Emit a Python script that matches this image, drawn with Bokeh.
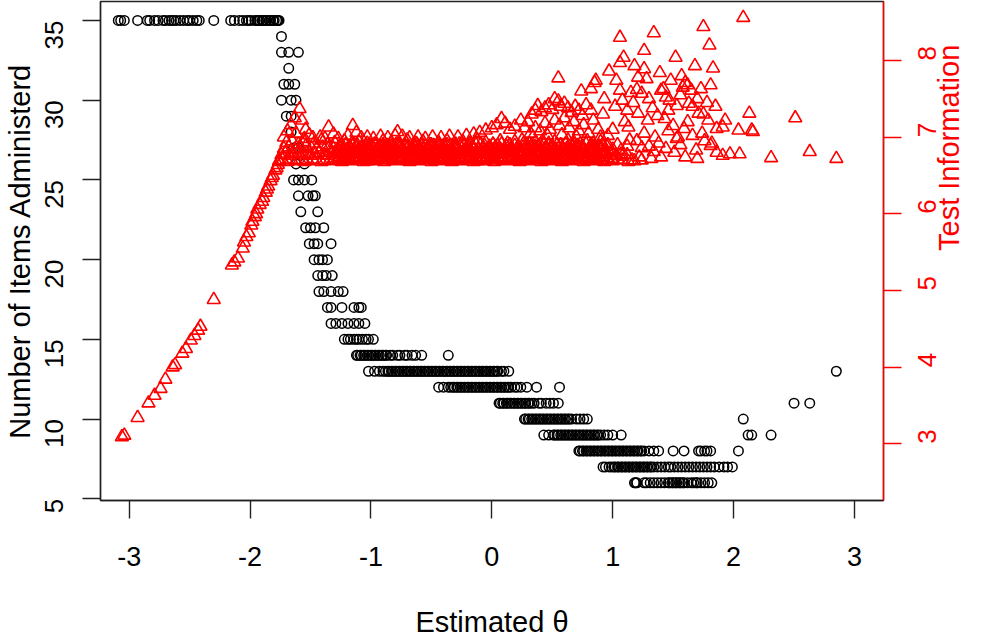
import math
from bokeh.plotting import figure
from bokeh.models import Range1d, LinearAxis, FixedTicker, ColumnDataSource
from bokeh.embed import file_html
from bokeh.resources import INLINE

# ---------------- Number of items administered vs estimated theta ----------------
n35 = [-3.09, -3.07, -3.04, -2.93, -2.85, -2.83, -2.79, -2.76, -2.72, -2.70, -2.67,
       -2.65, -2.63, -2.61, -2.58, -2.55, -2.52, -2.50, -2.47, -2.44, -2.42, -2.30,
       -2.16, -2.13, -2.09, -2.06, -2.03, -2.01, -1.99, -1.96, -1.94, -1.93, -1.92,
       -1.90, -1.89, -1.87, -1.86, -1.84, -1.83, -1.81, -1.80, -1.78, -1.77, -1.76]
n34 = [-1.74]
n33 = [-1.74, -1.68, -1.60]
n32 = [-1.68]
n31 = [-1.72, -1.68, -1.63]
n30 = [-1.74, -1.66, -1.62]
n29 = [-1.70, -1.66]
n28 = [-1.66]
n27 = [-1.64, -1.60]
n26 = [-1.62, -1.55]
n25 = [-1.64, -1.60, -1.55, -1.49]
n24 = [-1.60, -1.52, -1.48, -1.46]
n23 = [-1.58, -1.44]
n22 = [-1.54, -1.50, -1.46, -1.39]
n21 = [-1.51, -1.47, -1.44, -1.33]
n20 = [-1.47, -1.43, -1.40, -1.36]
n19 = [-1.44, -1.40, -1.37, -1.32]
n18 = [-1.43, -1.39, -1.33, -1.27, -1.23]
n17 = [-1.36, -1.33, -1.24, -1.14, -1.10, -1.08]
n16 = [-1.33, -1.29, -1.24, -1.19, -1.14, -1.10, -1.05]
n15 = [-1.22, -1.19, -1.17, -1.14, -1.12, -1.10, -1.07, -1.04, -1.02, -0.98]
n14 = [-1.12, -1.11, -1.09, -1.08, -1.06, -1.05, -1.03, -1.02, -1.00, -0.99, -0.97,
       -0.96, -0.94, -0.93, -0.91, -0.90, -0.88, -0.87, -0.84, -0.82, -0.78, -0.76,
       -0.72, -0.70, -0.66, -0.63, -0.58, -0.36]
n13 = [-1.02, -0.97, -0.93, -0.90, -0.88, -0.86, -0.85, -0.83, -0.82, -0.80, -0.79,
       -0.77, -0.76, -0.74, -0.73, -0.71, -0.70, -0.68, -0.67, -0.65, -0.64, -0.62,
       -0.61, -0.59, -0.58, -0.56, -0.55, -0.53, -0.52, -0.50, -0.49, -0.47, -0.46,
       -0.44, -0.43, -0.41, -0.40, -0.38, -0.37, -0.35, -0.34, -0.32, -0.31, -0.29,
       -0.28, -0.26, -0.25, -0.23, -0.22, -0.20, -0.19, -0.17, -0.16, -0.14, -0.13,
       -0.11, -0.10, -0.08, -0.07, -0.05, -0.04, -0.02, -0.01, 0.01, 0.02, 0.04,
       0.05, 0.08, 0.10, 0.14, 2.85]
n12 = [-0.44, -0.40, -0.36, -0.34, -0.32, -0.31, -0.29, -0.28, -0.26, -0.25, -0.23,
       -0.22, -0.20, -0.19, -0.17, -0.16, -0.14, -0.13, -0.11, -0.10, -0.08, -0.07,
       -0.05, -0.04, -0.02, -0.01, 0.01, 0.02, 0.04, 0.05, 0.07, 0.08, 0.10, 0.11,
       0.13, 0.14, 0.16, 0.19, 0.21, 0.24, 0.29, 0.37, 0.56]
n11 = [0.06, 0.07, 0.09, 0.10, 0.12, 0.13, 0.15, 0.16, 0.18, 0.19, 0.21, 0.22, 0.24,
       0.25, 0.27, 0.28, 0.30, 0.31, 0.33, 0.35, 0.39, 0.41, 0.45, 0.48, 0.51, 0.55,
       2.50, 2.63]
n10 = [0.27, 0.28, 0.30, 0.31, 0.33, 0.34, 0.36, 0.37, 0.39, 0.40, 0.42, 0.43, 0.45,
       0.46, 0.48, 0.49, 0.51, 0.52, 0.54, 0.55, 0.57, 0.58, 0.60, 0.61, 0.63, 0.64,
       0.66, 0.70, 0.73, 0.76, 0.79, 2.08]
n9 = [0.43, 0.47, 0.51, 0.52, 0.54, 0.55, 0.57, 0.58, 0.60, 0.61, 0.63, 0.64, 0.66,
      0.67, 0.69, 0.70, 0.72, 0.73, 0.75, 0.76, 0.78, 0.79, 0.81, 0.82, 0.84, 0.85,
      0.87, 0.88, 0.90, 0.93, 0.96, 1.00, 1.07, 2.12, 2.15, 2.31]
n8 = [0.72, 0.73, 0.75, 0.76, 0.78, 0.79, 0.81, 0.82, 0.84, 0.85, 0.87, 0.88, 0.90,
      0.91, 0.93, 0.94, 0.96, 0.97, 0.99, 1.00, 1.02, 1.03, 1.05, 1.06, 1.08, 1.09,
      1.11, 1.12, 1.14, 1.15, 1.17, 1.18, 1.20, 1.21, 1.23, 1.24, 1.26, 1.30, 1.34,
      1.38, 1.50, 1.59, 1.71, 1.73, 1.76, 1.78, 1.81, 2.04]
n7 = [0.92, 0.94, 0.97, 0.99, 1.01, 1.02, 1.04, 1.05, 1.07, 1.08, 1.10, 1.11, 1.13,
      1.14, 1.16, 1.17, 1.19, 1.20, 1.22, 1.23, 1.25, 1.26, 1.28, 1.29, 1.31, 1.32,
      1.34, 1.37, 1.40, 1.43, 1.46, 1.48, 1.51, 1.54, 1.57, 1.60, 1.63, 1.66, 1.69,
      1.72, 1.75, 1.78, 1.81, 1.84, 1.88, 1.92, 1.95, 1.99]
n6 = [1.18, 1.19, 1.20, 1.26, 1.28, 1.31, 1.34, 1.37, 1.40, 1.43, 1.46, 1.47, 1.49,
      1.50, 1.52, 1.53, 1.55, 1.56, 1.58, 1.59, 1.62, 1.65, 1.67, 1.69, 1.70, 1.73,
      1.76, 1.79, 1.82]

item_levels = [35, 34, 33, 32, 31, 30, 29, 28, 27, 26, 25, 24, 23, 22, 21, 20, 19,
               18, 17, 16, 15, 14, 13, 12, 11, 10, 9, 8, 7, 6]
item_groups = [n35, n34, n33, n32, n31, n30, n29, n28, n27, n26, n25, n24, n23, n22,
               n21, n20, n19, n18, n17, n16, n15, n14, n13, n12, n11, n10, n9, n8,
               n7, n6]

# ---------------- Test information vs estimated theta ----------------
rise_theta = [-3.06, -3.04, -2.93, -2.84, -2.79, -2.74, -2.70, -2.64, -2.62, -2.56,
              -2.53, -2.49, -2.46, -2.43, -2.41, -2.30, -2.15, -2.13, -2.10, -2.06,
              -2.05, -2.03, -2.01, -1.99, -1.98, -1.96, -1.95, -1.94, -1.92, -1.90,
              -1.89, -1.87, -1.86, -1.85, -1.83, -1.82, -1.81, -1.79, -1.78, -1.77,
              -1.76]
rise_info = [3.09, 3.11, 3.34, 3.53, 3.63, 3.72, 3.84, 4.00, 4.03, 4.18,
             4.24, 4.35, 4.41, 4.48, 4.53, 4.88, 5.33, 5.37, 5.42, 5.55,
             5.63, 5.70, 5.75, 5.85, 5.90, 5.96, 6.00, 6.06, 6.12, 6.16,
             6.21, 6.28, 6.32, 6.36, 6.43, 6.47, 6.50, 6.57, 6.60, 6.64,
             6.68]

band1_theta = [-1.76, -1.73, -1.69, -1.66, -1.62, -1.59, -1.55, -1.52, -1.48, -1.45,
               -1.41, -1.38, -1.34, -1.31, -1.27, -1.24, -1.20, -1.17, -1.13, -1.10,
               -1.06, -1.03, -0.99, -0.96, -0.92, -0.89, -0.85, -0.82, -0.78, -0.75,
               -0.71, -0.68, -0.64, -0.61, -0.57, -0.54, -0.50, -0.47, -0.43, -0.40,
               -0.36, -0.33, -0.29, -0.26, -0.22, -0.19, -0.15, -0.12, -0.08, -0.05,
               -0.01, 0.02, 0.06, 0.09, 0.13, 0.16, 0.20, 0.23, 0.27, 0.30,
               0.34, 0.37, 0.41, 0.44, 0.48, 0.51, 0.55, 0.58, 0.62, 0.65,
               0.69, 0.72, 0.76, 0.79, 0.83, 0.86, 0.90, 0.93, 0.97, 1.00,
               1.04, 1.08, 1.13, 1.18, 1.24]
band1_info = [6.69, 6.70, 6.68, 6.71, 6.69, 6.70, 6.68, 6.69, 6.71, 6.70,
              6.68, 6.69, 6.70, 6.71, 6.69, 6.68, 6.70, 6.69, 6.71, 6.70,
              6.68, 6.69, 6.70, 6.69, 6.71, 6.68, 6.70, 6.69, 6.70, 6.71,
              6.69, 6.68, 6.70, 6.69, 6.71, 6.70, 6.68, 6.69, 6.70, 6.71,
              6.69, 6.68, 6.70, 6.69, 6.71, 6.70, 6.68, 6.69, 6.70, 6.69,
              6.71, 6.68, 6.70, 6.69, 6.70, 6.71, 6.69, 6.68, 6.70, 6.69,
              6.71, 6.70, 6.68, 6.69, 6.70, 6.71, 6.69, 6.68, 6.70, 6.69,
              6.71, 6.70, 6.68, 6.69, 6.70, 6.71, 6.69, 6.68, 6.70, 6.69,
              6.71, 6.70, 6.68, 6.69, 6.70]

band2_theta = [-1.74, -1.71, -1.67, -1.64, -1.60, -1.57, -1.53, -1.50, -1.46, -1.43,
               -1.39, -1.36, -1.32, -1.29, -1.25, -1.22, -1.18, -1.15, -1.11, -1.08,
               -1.04, -1.01, -0.97, -0.94, -0.90, -0.87, -0.83, -0.80, -0.76, -0.73,
               -0.69, -0.66, -0.62, -0.59, -0.55, -0.52, -0.48, -0.45, -0.41, -0.38,
               -0.34, -0.31, -0.27, -0.24, -0.20, -0.17, -0.13, -0.10, -0.06, -0.03,
               0.01, 0.04, 0.08, 0.11, 0.15, 0.18, 0.22, 0.25, 0.29, 0.32,
               0.36, 0.39, 0.43, 0.46, 0.50, 0.53, 0.57, 0.60, 0.64, 0.67,
               0.71, 0.74, 0.78, 0.81, 0.85, 0.88, 0.92, 0.95, 0.99, 1.03,
               1.07, 1.12]
band2_info = [6.77, 6.79, 6.76, 6.78, 6.80, 6.77, 6.79, 6.76, 6.78, 6.80,
              6.77, 6.76, 6.79, 6.78, 6.77, 6.80, 6.76, 6.78, 6.79, 6.77,
              6.80, 6.76, 6.78, 6.77, 6.79, 6.80, 6.76, 6.78, 6.77, 6.79,
              6.76, 6.80, 6.78, 6.77, 6.79, 6.76, 6.78, 6.80, 6.77, 6.79,
              6.76, 6.78, 6.77, 6.80, 6.79, 6.76, 6.78, 6.77, 6.79, 6.80,
              6.76, 6.78, 6.77, 6.79, 6.80, 6.76, 6.78, 6.77, 6.79, 6.76,
              6.80, 6.78, 6.77, 6.79, 6.76, 6.78, 6.80, 6.77, 6.79, 6.76,
              6.78, 6.77, 6.80, 6.79, 6.76, 6.78, 6.77, 6.79, 6.80, 6.76,
              6.78, 6.77]

band3_theta = [-1.72, -1.68, -1.63, -1.58, -1.54, -1.49, -1.45, -1.40, -1.35, -1.31,
               -1.26, -1.22, -1.17, -1.12, -1.08, -1.03, -0.99, -0.94, -0.89, -0.85,
               -0.80, -0.76, -0.71, -0.66, -0.62, -0.57, -0.53, -0.48, -0.43, -0.39,
               -0.34, -0.30, -0.25, -0.20, -0.16, -0.11, -0.07, -0.02, 0.03, 0.07,
               0.12, 0.16, 0.21, 0.26, 0.30, 0.35, 0.39, 0.44, 0.49, 0.53,
               0.58, 0.62, 0.67, 0.72, 0.76, 0.81, 0.85, 0.90, 0.95, 1.00]
band3_info = [6.85, 6.87, 6.84, 6.86, 6.88, 6.85, 6.84, 6.87, 6.86, 6.85,
              6.88, 6.84, 6.86, 6.87, 6.85, 6.84, 6.88, 6.86, 6.85, 6.87,
              6.84, 6.86, 6.88, 6.85, 6.87, 6.84, 6.86, 6.85, 6.88, 6.87,
              6.84, 6.86, 6.85, 6.87, 6.88, 6.84, 6.86, 6.85, 6.87, 6.84,
              6.88, 6.86, 6.85, 6.87, 6.84, 6.86, 6.88, 6.85, 6.87, 6.84,
              6.86, 6.85, 6.88, 6.87, 6.84, 6.86, 6.85, 6.87, 6.88, 6.84]

band4_theta = [-1.70, -1.65, -1.60, -1.55, -1.47, -1.41, -1.36, -1.30, -1.22, -1.16,
               -1.10, -1.03, -0.96, -0.90, -0.83, -0.77, -0.70, -0.63, -0.57, -0.50,
               -0.44, -0.37, -0.30, -0.24, -0.18, -0.12, -0.05, 0.01, 0.07, 0.13,
               0.19, 0.25, 0.31, 0.36, 0.42, 0.47, 0.52, 0.57, 0.63, 0.68,
               0.73, 0.79, 0.84, 0.90, 0.96]
band4_info = [6.93, 6.95, 6.91, 6.94, 6.92, 6.96, 6.90, 6.93, 6.95, 6.91,
              6.94, 6.92, 6.90, 6.95, 6.93, 6.91, 6.96, 6.92, 6.94, 6.90,
              6.93, 6.95, 6.91, 6.94, 6.92, 6.96, 6.93, 6.91, 6.95, 6.92,
              6.94, 6.96, 6.91, 6.93, 6.95, 6.92, 6.94, 6.90, 6.96, 6.93,
              6.91, 6.95, 6.92, 6.94, 6.90]

band5_theta = [-1.30, -1.27, -1.24, -1.21, -1.18, -1.15, -1.12, -1.09, -1.06, -1.03,
               -1.00, -0.97, -0.94, -0.91, -0.88, -0.85, -0.82, -0.79, -0.76, -0.73,
               -0.70, -0.67, -0.64, -0.61, -0.58, -0.55, -0.52, -0.49, -0.46, -0.43,
               -0.40, -0.37, -0.34, -0.31, -0.28, -0.25, -0.22, -0.19, -0.16, -0.13,
               -0.10, -0.07, -0.04, -0.01, 0.02, 0.05, 0.08, 0.11, 0.14, 0.17,
               0.20, 0.23, 0.26, 0.29, 0.32, 0.35, 0.38, 0.41, 0.44, 0.47,
               0.50, 0.53, 0.56, 0.59, 0.62, 0.65, 0.68, 0.71, 0.74, 0.77,
               0.80, 0.83, 0.86, 0.89, 0.92, 0.95]
band5_info = [6.73, 6.74, 6.72, 6.75, 6.73, 6.72, 6.74, 6.73, 6.75, 6.72,
              6.74, 6.73, 6.72, 6.75, 6.74, 6.73, 6.72, 6.74, 6.75, 6.73,
              6.72, 6.74, 6.73, 6.75, 6.72, 6.74, 6.73, 6.72, 6.75, 6.74,
              6.73, 6.72, 6.74, 6.75, 6.73, 6.72, 6.74, 6.73, 6.75, 6.72,
              6.74, 6.73, 6.72, 6.75, 6.74, 6.73, 6.72, 6.74, 6.75, 6.73,
              6.72, 6.74, 6.73, 6.75, 6.72, 6.74, 6.73, 6.72, 6.75, 6.74,
              6.73, 6.72, 6.74, 6.75, 6.73, 6.72, 6.74, 6.73, 6.75, 6.72,
              6.74, 6.73, 6.72, 6.75, 6.74, 6.73]

band6_theta = [-1.29, -1.26, -1.23, -1.20, -1.17, -1.14, -1.11, -1.08, -1.05, -1.02,
               -0.99, -0.96, -0.93, -0.90, -0.87, -0.84, -0.81, -0.78, -0.75, -0.72,
               -0.69, -0.66, -0.63, -0.60, -0.57, -0.54, -0.51, -0.48, -0.45, -0.42,
               -0.39, -0.36, -0.33, -0.30, -0.27, -0.24, -0.21, -0.18, -0.15, -0.12,
               -0.09, -0.06, -0.03, 0.00, 0.03, 0.06, 0.09, 0.12, 0.15, 0.18,
               0.21, 0.24, 0.27, 0.30, 0.33, 0.36, 0.39, 0.42, 0.45, 0.48,
               0.51, 0.54, 0.57, 0.60, 0.63, 0.66, 0.69, 0.72, 0.75, 0.78,
               0.81, 0.84, 0.87, 0.90, 0.93]
band6_info = [6.81, 6.82, 6.80, 6.83, 6.81, 6.80, 6.82, 6.81, 6.83, 6.80,
              6.82, 6.81, 6.80, 6.83, 6.82, 6.81, 6.80, 6.82, 6.83, 6.81,
              6.80, 6.82, 6.81, 6.83, 6.80, 6.82, 6.81, 6.80, 6.83, 6.82,
              6.81, 6.80, 6.82, 6.83, 6.81, 6.80, 6.82, 6.81, 6.83, 6.80,
              6.82, 6.81, 6.80, 6.83, 6.82, 6.81, 6.80, 6.82, 6.83, 6.81,
              6.80, 6.82, 6.81, 6.83, 6.80, 6.82, 6.81, 6.80, 6.83, 6.82,
              6.81, 6.80, 6.82, 6.83, 6.81, 6.80, 6.82, 6.81, 6.83, 6.80,
              6.82, 6.81, 6.80, 6.83, 6.82]

band7_theta = [-1.25, -1.21, -1.18, -1.14, -1.11, -1.07, -1.04, -1.00, -0.97, -0.93,
               -0.90, -0.86, -0.83, -0.79, -0.76, -0.72, -0.69, -0.65, -0.62, -0.58,
               -0.55, -0.51, -0.48, -0.44, -0.41, -0.37, -0.34, -0.30, -0.27, -0.23,
               -0.20, -0.16, -0.13, -0.09, -0.06, -0.02, 0.01, 0.05, 0.08, 0.12,
               0.15, 0.19, 0.22, 0.26, 0.29, 0.33, 0.36, 0.40, 0.43, 0.47,
               0.50, 0.54, 0.57, 0.61, 0.64, 0.68, 0.71, 0.75, 0.78, 0.82,
               0.85, 0.89, 0.92]
band7_info = [6.89, 6.90, 6.88, 6.91, 6.89, 6.88, 6.90, 6.89, 6.91, 6.88,
              6.90, 6.89, 6.88, 6.91, 6.90, 6.89, 6.88, 6.90, 6.91, 6.89,
              6.88, 6.90, 6.89, 6.91, 6.88, 6.90, 6.89, 6.88, 6.91, 6.90,
              6.89, 6.88, 6.90, 6.91, 6.89, 6.88, 6.90, 6.89, 6.91, 6.88,
              6.90, 6.89, 6.88, 6.91, 6.90, 6.89, 6.88, 6.90, 6.91, 6.89,
              6.88, 6.90, 6.89, 6.91, 6.88, 6.90, 6.89, 6.88, 6.91, 6.90,
              6.89, 6.88, 6.90]

upper_theta = [-1.72, -1.69, -1.66, -1.63, -1.59, -1.57, -1.54, -1.51, -1.62, -1.55,
               -1.48, -1.42, -1.38, -1.35, -1.31, -1.27, -1.19, -1.15, -1.12, -1.08,
               -1.03, -0.98, -0.92, -0.86, -0.80, -0.78, -0.74, -0.68, -0.61, -0.55,
               -0.49, -0.42, -0.35, -0.28, -0.21, -0.15, -0.10, -0.05, 0.00, 0.04,
               0.08, 0.11, 0.15, 0.19, 0.24, 0.27, 0.30, 0.33, 0.36, 0.38,
               0.41, 0.44, 0.47, 0.50, 0.52, 0.55, 0.57, 0.60, 0.63, 0.66,
               0.69, 0.72, 0.75, 0.55, 0.74, 0.82, 0.85, 0.86, 0.93, 0.97,
               0.32, 0.36, 0.40, 0.44, 0.48, 0.52, 0.56, 0.60, 0.64, 0.68,
               0.72, 0.76, 0.80, 0.84, 0.88, 0.92, 0.96, 0.34, 0.46, 0.58,
               0.70, 0.82, 0.78, 0.90]
upper_info = [7.00, 7.08, 7.16, 7.25, 7.37, 7.22, 7.10, 7.03, 7.05, 6.98,
              6.99, 7.00, 6.98, 7.13, 7.04, 6.98, 7.02, 7.15, 7.06, 6.99,
              7.00, 6.98, 7.01, 6.99, 7.02, 7.07, 7.01, 6.99, 7.00, 6.98,
              7.00, 6.99, 7.01, 7.00, 7.02, 7.04, 7.06, 7.09, 7.12, 7.16,
              7.24, 7.18, 7.10, 7.14, 7.22, 7.12, 7.20, 7.30, 7.35, 7.41,
              7.33, 7.38, 7.42, 7.36, 7.50, 7.47, 7.40, 7.44, 7.38, 7.32,
              7.40, 7.35, 7.28, 7.77, 7.60, 7.63, 7.71, 7.74, 7.50, 7.86,
              7.05, 7.12, 7.08, 7.18, 7.10, 7.22, 7.15, 7.25, 7.12, 7.20,
              7.08, 7.16, 7.05, 7.22, 7.10, 7.30, 7.02, 7.00, 7.02, 7.03,
              7.00, 7.35, 7.42, 7.00]

right_theta = [1.00, 1.03, 1.06, 1.06, 1.06, 1.07, 1.09, 1.10, 1.13, 1.14,
               1.15, 1.18, 1.21, 1.21, 1.24, 1.24, 1.26, 1.26, 1.26, 1.28,
               1.29, 1.34, 1.34, 1.35, 1.39, 1.40, 1.42, 1.43, 1.46, 1.47,
               1.48, 1.51, 1.52, 1.53, 1.53, 1.54, 1.57, 1.58, 1.59, 1.60,
               1.62, 1.63, 1.65, 1.68, 1.69, 1.71, 1.73, 1.75, 1.78, 1.79,
               1.80, 1.81, 1.81, 1.82, 1.83, 1.86, 1.91, 1.91, 1.93, 1.97,
               2.04, 2.05, 2.08, 2.13, 2.15, 2.16, 2.31, 2.51, 2.63, 2.85,
               1.00, 1.04, 1.08, 1.12, 1.16, 1.20, 1.22, 1.30, 1.32, 1.38,
               1.40, 1.44, 1.46, 1.50, 1.56, 1.60, 1.62, 1.66, 1.70, 1.74,
               1.76, 1.86, 1.02, 1.08, 1.12, 1.17, 1.20, 1.30, 1.33, 1.37,
               1.44, 1.56, 1.66, 1.70, 1.75, 1.85]
right_info = [7.10, 7.74, 8.30, 7.97, 7.61, 6.83, 8.04, 7.20, 7.13, 6.96,
              7.58, 7.93, 7.78, 7.31, 7.57, 6.86, 8.13, 7.89, 7.05, 7.76,
              7.22, 8.36, 6.81, 7.00, 7.84, 7.61, 7.63, 7.24, 7.35, 7.48,
              7.74, 6.80, 8.04, 7.41, 6.98, 7.00, 7.80, 7.65, 7.11, 7.71,
              7.68, 7.44, 7.61, 7.93, 6.83, 7.31, 7.63, 8.44, 7.45, 7.22,
              8.20, 7.68, 6.89, 6.92, 7.90, 7.11, 6.76, 7.13, 7.22, 6.78,
              7.09, 6.78, 8.56, 7.31, 7.09, 7.07, 6.73, 7.25, 6.81, 6.72,
              6.72, 6.90, 6.75, 6.88, 6.70, 6.95, 6.74, 6.88, 6.72, 6.92,
              6.74, 6.85, 7.08, 7.15, 6.90, 6.74, 7.20, 7.02, 6.72, 7.05,
              6.95, 6.80, 7.40, 7.48, 7.35, 7.45, 7.62, 7.50, 7.38, 7.28,
              7.52, 7.55, 7.40, 7.50, 7.30, 7.40]

x_ticks = [-3, -2, -1, 0, 1, 2, 3]
x_tick_labels = ["-3", "-2", "-1", "0", "1", "2", "3"]
left_ticks = [5, 10, 15, 20, 25, 30, 35]
right_ticks = [3, 4, 5, 6, 7, 8]
x_title = "Estimated θ"
left_title = "Number of Items Administerd"
right_title = "Test Information"

# ---------------- build sources ----------------
items_theta, items_n = [], []
for lvl, grp in zip(item_levels, item_groups):
    items_theta.extend(grp)
    items_n.extend([lvl] * len(grp))
items_src = ColumnDataSource(dict(theta=items_theta, n=items_n))

info_theta = (rise_theta + band1_theta + band2_theta + band3_theta + band4_theta +
              band5_theta + band6_theta + band7_theta + upper_theta + right_theta)
info_val = (rise_info + band1_info + band2_info + band3_info + band4_info +
            band5_info + band6_info + band7_info + upper_info + right_info)
info_src = ColumnDataSource(dict(theta=info_theta, info=info_val))

FONT = "Liberation Sans"
BLACK = "#222222"
RED = "#FF0000"

p = figure(width=985, height=641,
           x_range=Range1d(-3.237, 3.240), y_range=Range1d(4.893, 36.19),
           output_backend="svg", toolbar_location=None,
           min_border_left=100, min_border_right=102, min_border_top=1, min_border_bottom=141,
           x_axis_label=x_title, y_axis_label=left_title)
p.extra_y_ranges = {"info": Range1d(2.26, 8.77)}

p.xgrid.visible = False
p.ygrid.visible = False
p.background_fill_color = "white"
p.border_fill_color = "white"
p.outline_line_color = BLACK
p.outline_line_width = 1.4

p.scatter("theta", "n", source=items_src, marker="circle", size=9.5,
          fill_color=None, line_color="black", line_width=1.5)
p.scatter("theta", "info", source=info_src, marker="triangle", size=13,
          fill_color=None, line_color=RED, line_width=1.6, y_range_name="info")

right = LinearAxis(y_range_name="info", axis_label=right_title)
p.add_layout(right, "right")

for ax in (p.xaxis[0], p.yaxis[0]):
    ax.axis_line_color = BLACK
    ax.axis_line_width = 1.4
    ax.major_tick_line_color = BLACK
    ax.major_tick_line_width = 1.4
    ax.major_label_text_color = "black"
    ax.axis_label_text_color = "black"

for ax in (p.xaxis[0], p.yaxis[0], right):
    ax.major_tick_out = 18
    ax.major_tick_in = 0
    ax.minor_tick_line_color = None
    ax.major_label_text_font = FONT
    ax.axis_label_text_font = FONT
    ax.axis_label_text_font_style = "normal"
    ax.axis_label_text_font_size = "29px"

p.xaxis[0].ticker = FixedTicker(ticks=x_ticks)
p.xaxis[0].major_label_overrides = dict(zip(x_ticks, x_tick_labels))
p.xaxis[0].major_label_text_font_size = "27px"
p.xaxis[0].major_label_standoff = 28
p.xaxis[0].axis_label_standoff = 37

p.yaxis[0].ticker = FixedTicker(ticks=left_ticks)
p.yaxis[0].major_label_text_font_size = "26px"
p.yaxis[0].major_label_orientation = math.pi / 2
p.yaxis[0].major_label_standoff = 28
p.yaxis[0].axis_label_standoff = -2

right.ticker = FixedTicker(ticks=right_ticks)
right.axis_line_color = RED
right.axis_line_width = 1.5
right.major_tick_line_color = RED
right.major_tick_line_width = 1.4
right.major_label_text_color = RED
right.axis_label_text_color = RED
right.major_label_text_font_size = "26px"
right.major_label_orientation = math.pi / 2
right.major_label_standoff = 26
right.axis_label_standoff = 0
if "axis_label_orientation" in right.properties():
    right.axis_label_orientation = math.pi / 2

open("out.html", "w").write(file_html(p, INLINE))
